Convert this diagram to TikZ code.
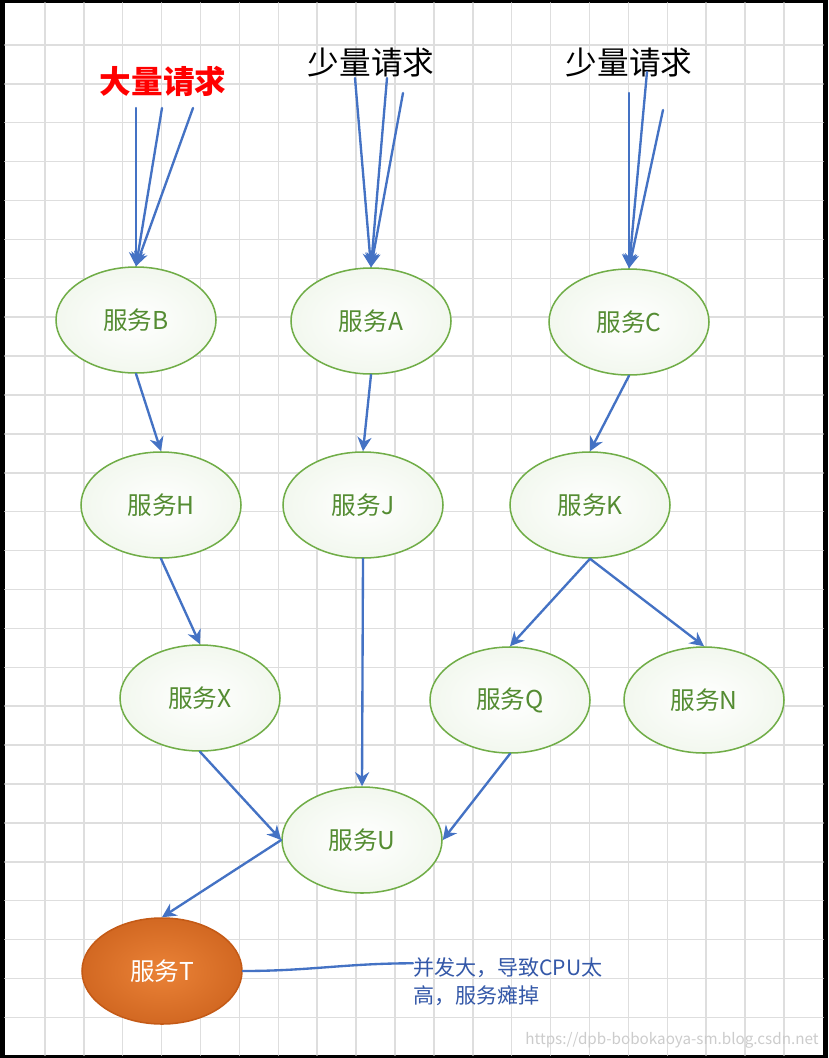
\documentclass[tikz,border=0pt]{standalone}
\usepackage{fontspec}
\setmainfont{Noto Sans CJK SC}
\usetikzlibrary{arrows.meta,shapes.geometric}
\definecolor{svcgreen}{RGB}{112,173,71}
\definecolor{svctext}{RGB}{84,140,50}
\definecolor{reqblue}{RGB}{68,114,196}
\definecolor{noteblue}{RGB}{52,88,168}
\definecolor{hotlight}{RGB}{234,130,55}
\definecolor{hotdark}{RGB}{210,104,34}
\definecolor{hotedge}{RGB}{196,90,22}
\definecolor{gridgray}{RGB}{222,222,222}

\begin{document}
\begin{tikzpicture}[x=0.03cm,y=-0.03cm,line cap=round]
	\tikzstyle{gridline}=[gridgray,line width=1.3pt];
	\tikzstyle{svc}=[ellipse,draw=svcgreen,line width=1.3pt,inner color=white,outer color=svcgreen!9,minimum width=4.8cm,minimum height=3.18cm,text=svctext,font=\fontsize{21}{21}\selectfont];
	\tikzstyle{hot}=[svc,draw=hotedge,inner color=hotlight,outer color=hotdark,text=white];
	\tikzstyle{req}=[draw=reqblue,line width=2pt,-{Stealth[length=12pt,width=12pt]}];
	\tikzstyle{link}=[draw=reqblue,line width=2pt];
	\tikzstyle{asks}=[font=\fontsize{27}{27}\selectfont];
	% frame and grid
	\useasboundingbox (0,0) rectangle (828,1058);
	\fill[black] (0,0) rectangle (828,1058);
	\fill[white] (5,3) rectangle (823,1055);
	\foreach \k in {1,...,20} \draw[gridline] (6+38.9*\k,3) -- (6+38.9*\k,1055);
	\foreach \k in {1,...,26} \draw[gridline] (5,6+38.9*\k) -- (823,6+38.9*\k);
	% services
	\node[svc] (B) at (136,320) {服务B};
	\node[svc] (A) at (371,321) {服务A};
	\node[svc] (C) at (629,322) {服务C};
	\node[svc] (H) at (161,505) {服务H};
	\node[svc] (J) at (363,505) {服务J};
	\node[svc] (K) at (590,505) {服务K};
	\node[svc] (X) at (200,698) {服务X};
	\node[svc] (Q) at (510,700) {服务Q};
	\node[svc] (N) at (704,700) {服务N};
	\node[svc] (U) at (362,840) {服务U};
	\node[hot] (T) at (162,971) {服务T};
	% requests
	\node[asks,text=red,font=\fontsize{27}{27}\selectfont\bfseries] (many) at (163,81) {大量请求};
	\node[asks] (fewA) at (371,63) {少量请求};
	\node[asks] (fewC) at (629,63) {少量请求};
	\foreach \x/\y [count=\i] in {136/108,162/108,193/108} {
		\coordinate (b\i) at (\x,\y);
		\draw[req] (b\i) -- (B.north);
	}
	\foreach \x/\y [count=\i] in {355/78,387/78,403/93} {
		\coordinate (a\i) at (\x,\y);
		\draw[req] (a\i) -- (A.north);
	}
	\foreach \x/\y [count=\i] in {629/93,647/72,663/110} {
		\coordinate (c\i) at (\x,\y);
		\draw[req] (c\i) -- (C.north);
	}
	% calls
	\draw[req] (B.south) -- (H.north);
	\draw[req] (A.south) -- (J.north);
	\draw[req] (C.south) -- (K.north);
	\draw[req] (H.south) -- (X.north);
	\draw[req] (J.south) -- (U.north);
	\draw[req] (K.south) -- (Q.north);
	\draw[req] (K.south) -- (N.north);
	\draw[req] (X.south) -- (U.west);
	\draw[req] (Q.south) -- (U.east);
	\draw[req] (U.west) -- (T.north);
	% note
	\node[anchor=text,inner sep=0pt,text width=7cm,align=left,text=noteblue,font=\fontsize{18}{24}\selectfont] (note) at (413,975) {并发大，导致CPU太\\高，服务瘫掉};
	\draw[link] (T.east) to[out=0,in=180] ([yshift=10pt]note.text);
	\node[text=black!20,font=\fontsize{13}{13}\selectfont] (mark) at (672,1040) {https://dpb-bobokaoya-sm.blog.csdn.net};
\end{tikzpicture}
\end{document}
